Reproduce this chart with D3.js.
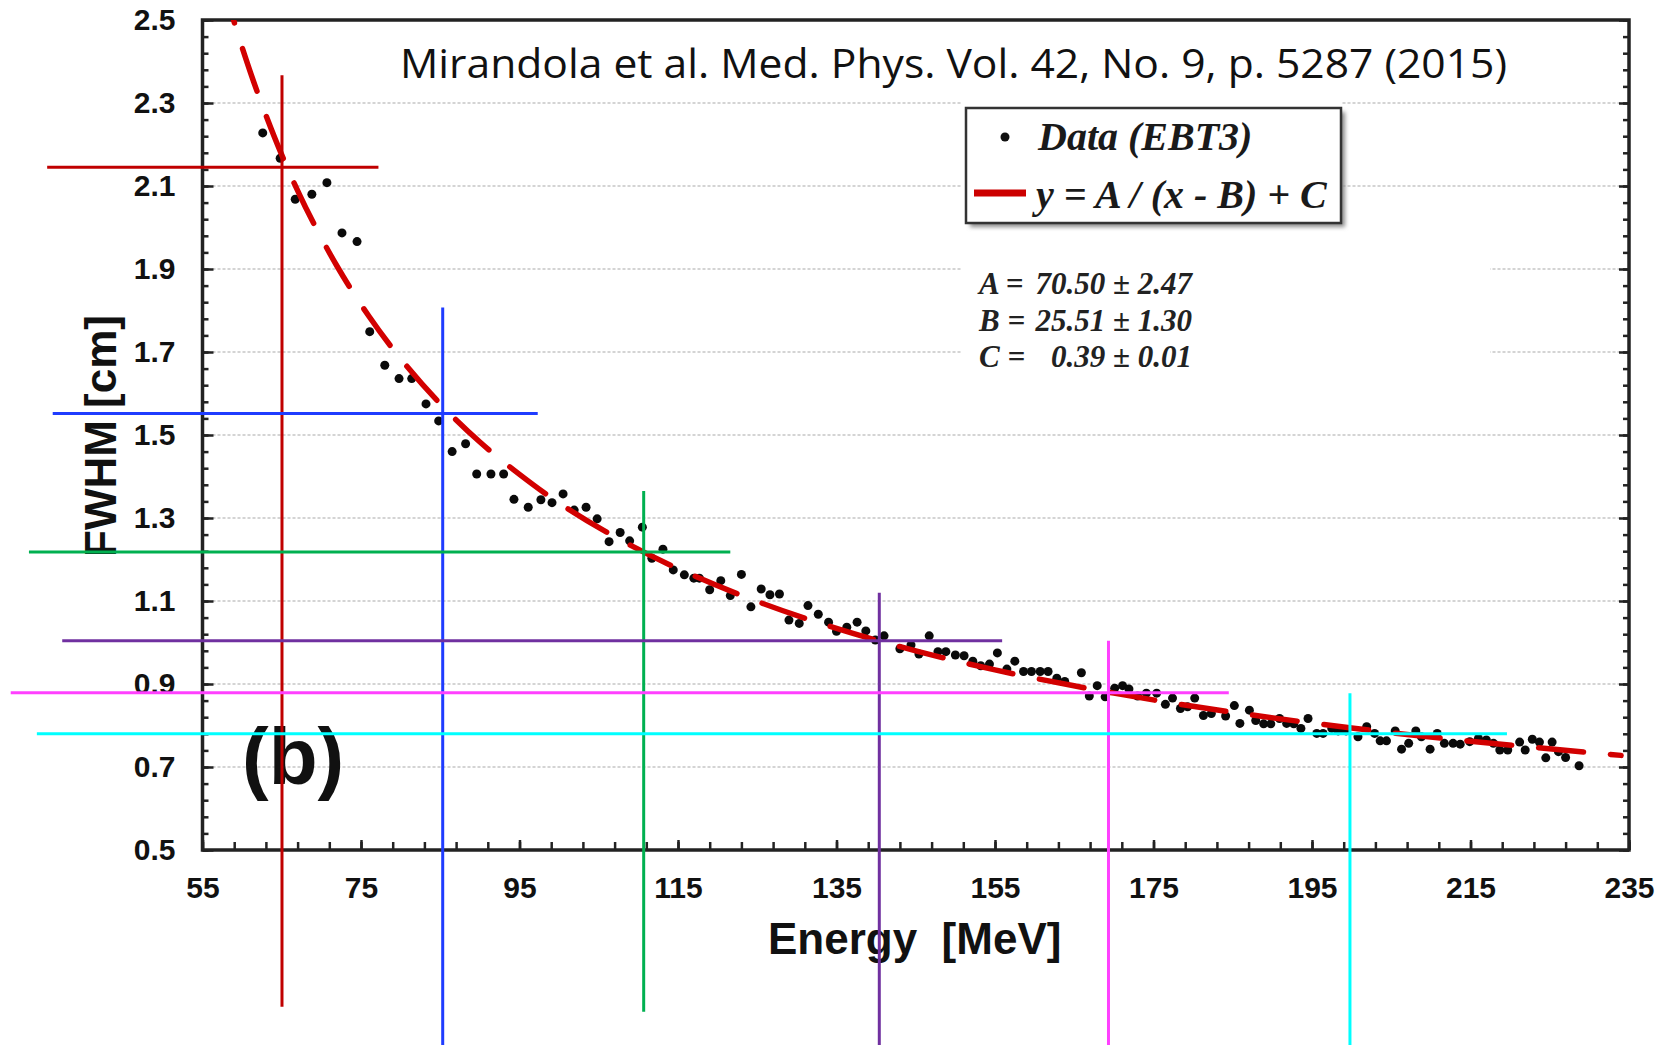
<!DOCTYPE html>
<html><head><meta charset="utf-8">
<script src="https://cdn.jsdelivr.net/npm/d3@7"></script>
<style>body{margin:0;background:#fff}svg{display:block}</style>
</head><body>
<script>
// ---------- data ----------
const energy = [62.6,64.8,66.7,68.8,70.7,72.6,74.5,76.1,78.0,79.8,81.4,83.2,84.8,86.5,88.2,89.6,91.4,93.0,94.3,96.1,
97.7,99.1,100.5,101.9,103.4,104.8,106.3,107.7,108.9,110.5,111.7,113.1,114.4,115.8,117.0,117.7,119.0,120.4,121.6,123.0,
124.2,125.5,126.6,127.8,129.0,130.3,131.4,132.7,134.0,135.0,136.3,137.6,138.7,139.9,141.0,143.0,144.4,145.4,146.7,147.8,
148.8,150.0,151.1,152.2,153.2,154.3,155.3,156.5,157.5,158.6,159.6,160.7,161.7,162.8,163.8,165.9,166.9,167.9,168.9,170.1,
171.1,171.9,173.0,174.1,175.4,176.5,177.4,178.4,179.3,180.2,181.3,182.3,184.1,185.2,185.9,187.1,187.9,188.9,189.8,190.9,
191.8,192.7,193.6,194.5,195.6,196.4,197.5,198.3,199.3,200.8,201.9,202.9,203.6,204.4,205.5,206.3,207.2,208.1,208.8,209.9,
210.8,211.7,212.8,213.7,214.9,216.0,217.0,217.9,218.7,219.7,221.2,221.9,222.8,223.7,224.5,225.3,226.1,227.0,228.7];
const fwhm = [2.228,2.167,2.068,2.080,2.108,1.987,1.966,1.749,1.668,1.636,1.636,1.575,1.534,1.460,1.479,1.406,1.406,1.406,1.345,1.326,
1.344,1.337,1.358,1.319,1.326,1.298,1.243,1.265,1.245,1.278,1.203,1.225,1.175,1.163,1.155,1.155,1.127,1.149,1.113,1.164,
1.086,1.129,1.115,1.117,1.054,1.046,1.089,1.068,1.049,1.027,1.037,1.049,1.028,1.006,1.016,0.985,0.994,0.972,1.016,0.978,
0.978,0.970,0.968,0.955,0.944,0.948,0.975,0.936,0.955,0.930,0.930,0.930,0.930,0.914,0.906,0.927,0.871,0.896,0.869,0.890,
0.896,0.888,0.871,0.878,0.878,0.851,0.866,0.841,0.845,0.866,0.824,0.829,0.823,0.848,0.805,0.837,0.812,0.804,0.804,0.817,
0.805,0.804,0.793,0.817,0.781,0.781,0.793,0.787,0.787,0.773,0.797,0.781,0.763,0.763,0.787,0.743,0.757,0.787,0.773,0.743,
0.781,0.757,0.757,0.755,0.761,0.769,0.765,0.757,0.741,0.741,0.760,0.741,0.767,0.760,0.722,0.760,0.737,0.723,0.703];

// fitted curve, points
const fitEnergy = [58.92,60,62,65,68,72,76,80,85,90,95,100,107,115,125,135,145,155,170,185,200,215,234];
const fitFwhm   = [2.500,2.434,2.322,2.175,2.049,1.906,1.786,1.684,1.575,1.483,1.405,1.336,1.255,1.178,1.099,1.034,0.980,0.934,0.878,0.832,0.794,0.762,0.728];

const xTicks = [55,75,95,115,135,155,175,195,215,235];
const yTicks = [0.5,0.7,0.9,1.1,1.3,1.5,1.7,1.9,2.1,2.3,2.5];
const xMinor = d3.range(55, 235.01, 4);
const yMinor = d3.range(0.5, 2.501, 0.04);

// crosshair markers drawn over the chart (energy, FWHM) and their extents in data units
const markerEnergy = [65.03,85.31,110.67,140.40,169.32,199.79];
const markerFwhm   = [2.145,1.552,1.218,1.004,0.879,0.780];
const markerVTop    = [2.367,1.807,1.365,1.120,1.004,0.878];
const markerVBottom = [0.122,0.02,0.110,0.02,0.02,0.02];
const markerHLeft   = [35.4,36.1,33.1,37.3,30.8,34.1];
const markerHRight  = [77.2,97.3,121.6,155.9,184.5,219.6];
const markerColors  = ["#c00000","#1f3cff","#00b050","#7030a0","#ff40ff","#00ffff"];

const title = "Mirandola et al. Med. Phys. Vol. 42, No. 9, p. 5287 (2015)";
const params = [["A =","70.50 \u00b1 2.47"],["B =","25.51 \u00b1 1.30"],["C =","0.39 \u00b1 0.01"]];

// ---------- drawing ----------
const W = 1664, H = 1045;
const svg = d3.select("body").append("svg").attr("width", W).attr("height", H);
const x = d3.scaleLinear([55,235],[202.5,1629]);
const y = d3.scaleLinear([0.5,2.5],[850,20]);
const sans = "'Liberation Sans', Arial, sans-serif";
const serif = "'Liberation Serif', 'Times New Roman', serif";

const defs = svg.append("defs");
defs.append("clipPath").attr("id","plotclip").append("rect")
  .attr("x", x(55)).attr("y", y(2.5)).attr("width", x(235)-x(55)).attr("height", y(0.5)-y(2.5));
const f = defs.append("filter").attr("id","blur").attr("x","-10%").attr("y","-10%").attr("width","130%").attr("height","140%");
f.append("feGaussianBlur").attr("stdDeviation", 2);

// grid lines
svg.append("g").selectAll("line").data(yTicks.filter(v => v > 0.5 && v < 2.5)).join("line")
  .attr("x1", x(55)).attr("x2", x(235)).attr("y1", d => y(d)).attr("y2", d => y(d))
  .attr("stroke", "#d4d4d4").attr("stroke-width", 2).attr("stroke-dasharray", "3 2");

// white areas behind legend and parameters
svg.append("rect").attr("x", 961).attr("y", 100).attr("width", 380).attr("height", 130).attr("fill", "#fff");
svg.append("rect").attr("x", 961).attr("y", 240).attr("width", 529).attr("height", 145).attr("fill", "#fff");

// axes
function styleAxis(g){ g.select(".domain").remove(); g.selectAll("line").attr("stroke","#222").attr("stroke-width",2.5); }
const axFont = g => g.selectAll("text").attr("font-family", sans).attr("font-weight","bold").attr("font-size", 30).attr("fill","#111");

svg.append("g").attr("transform", `translate(0,${y(0.5)})`)
  .call(d3.axisBottom(x).tickValues(xMinor).tickSize(-8).tickFormat("")).call(styleAxis);
svg.append("g").attr("transform", `translate(0,${y(0.5)})`)
  .call(d3.axisBottom(x).tickValues(xTicks).tickSize(-10).tickPadding(27).tickFormat(d3.format("d")))
  .call(styleAxis).call(axFont);

svg.append("g").attr("transform", `translate(${x(55)},0)`)
  .call(d3.axisLeft(y).tickValues(yMinor).tickSize(-6).tickFormat("")).call(styleAxis);
svg.append("g").attr("transform", `translate(${x(55)},0)`)
  .call(d3.axisLeft(y).tickValues(yTicks).tickSize(-11).tickPadding(27).tickFormat(d3.format(".1f")))
  .call(styleAxis).call(axFont);

svg.append("g").attr("transform", `translate(${x(235)},0)`)
  .call(d3.axisRight(y).tickValues(yMinor).tickSize(-6).tickFormat("")).call(styleAxis);
svg.append("g").attr("transform", `translate(${x(235)},0)`)
  .call(d3.axisRight(y).tickValues(yTicks).tickSize(-10).tickFormat("")).call(styleAxis);

// frame
svg.append("rect").attr("x", x(55)).attr("y", y(2.5)).attr("width", x(235)-x(55)).attr("height", y(0.5)-y(2.5))
  .attr("fill","none").attr("stroke","#222").attr("stroke-width",3.5);

// axis titles
svg.append("text").attr("x", 768).attr("y", 954).attr("font-family", sans).attr("font-weight","bold")
  .attr("font-size", 44).attr("fill","#111").text("Energy\u00a0\u00a0[MeV]");
svg.append("text").attr("transform","translate(116,436) rotate(-90)").attr("text-anchor","middle")
  .attr("font-family", sans).attr("font-weight","bold").attr("font-size", 44).attr("fill","#111").text("FWHM [cm]");

// (b)
svg.append("text").attr("x", 242).attr("y", 784).attr("font-family", sans).attr("font-weight","bold")
  .attr("font-size", 80).attr("fill","#111").text("(b)");

// data points
const pts = energy.map((e,i) => [e, fwhm[i]]);
svg.append("g").selectAll("circle").data(pts).join("circle")
  .attr("cx", d => x(d[0])).attr("cy", d => y(d[1])).attr("r", 4.5).attr("fill","#0a0a0a");

// fit curve
const fitPts = fitEnergy.map((e,i) => [e, fitFwhm[i]]);
svg.append("path").datum(fitPts).attr("clip-path","url(#plotclip)")
  .attr("d", d3.line().x(d => x(d[0])).y(d => y(d[1])).curve(d3.curveCatmullRom))
  .attr("fill","none").attr("stroke","#d20000").attr("stroke-width",5.5)
  .attr("stroke-linecap","round").attr("stroke-dasharray","45 27").attr("stroke-dashoffset",42);

// legend
const lg = svg.append("g");
lg.append("rect").attr("x", 970).attr("y", 112).attr("width", 375).attr("height", 115)
  .attr("fill","#8a8a8a").attr("filter","url(#blur)");
lg.append("rect").attr("x", 966).attr("y", 108).attr("width", 375).attr("height", 115)
  .attr("fill","#fff").attr("stroke","#333").attr("stroke-width",2.5);
lg.append("circle").attr("cx", 1005).attr("cy", 137).attr("r", 4.5).attr("fill","#111");
lg.append("text").attr("x", 1038).attr("y", 150).attr("font-family", serif).attr("font-style","italic")
  .attr("font-weight","bold").attr("font-size", 40).attr("fill","#1a1a1a").text("Data (EBT3)");
lg.append("line").attr("x1", 974).attr("x2", 1026).attr("y1", 193).attr("y2", 193)
  .attr("stroke","#cc0000").attr("stroke-width",7);
lg.append("text").attr("x", 1036).attr("y", 208).attr("font-family", serif).attr("font-style","italic")
  .attr("font-weight","bold").attr("font-size", 40).attr("fill","#1a1a1a").text("y = A / (x - B) + C");

// parameters
const pg = svg.append("g").attr("font-family", serif).attr("font-style","italic").attr("font-weight","bold")
  .attr("font-size", 31).attr("fill","#222");
params.forEach((p,i) => {
  pg.append("text").attr("x", 979).attr("y", 294 + i*36.5).text(p[0]);
  pg.append("text").attr("x", 1192).attr("y", 294 + i*36.5).attr("text-anchor","end").text(p[1]);
});

// title
const t = svg.append("text").attr("x", 400).attr("y", 78).attr("font-family","'Open Sans', sans-serif")
  .attr("font-size", 41).attr("fill","#111").text(title);
t.attr("textLength", 1107).attr("lengthAdjust","spacingAndGlyphs");

// crosshairs on top
const cg = svg.append("g");
markerEnergy.forEach((e,i) => {
  cg.append("line").attr("x1", x(e)).attr("x2", x(e)).attr("y1", y(markerVTop[i])).attr("y2", y(markerVBottom[i]))
    .attr("stroke", markerColors[i]).attr("stroke-width", 3);
  cg.append("line").attr("x1", x(markerHLeft[i])).attr("x2", x(markerHRight[i]))
    .attr("y1", y(markerFwhm[i])).attr("y2", y(markerFwhm[i]))
    .attr("stroke", markerColors[i]).attr("stroke-width", 3);
});
</script>
</body></html>
